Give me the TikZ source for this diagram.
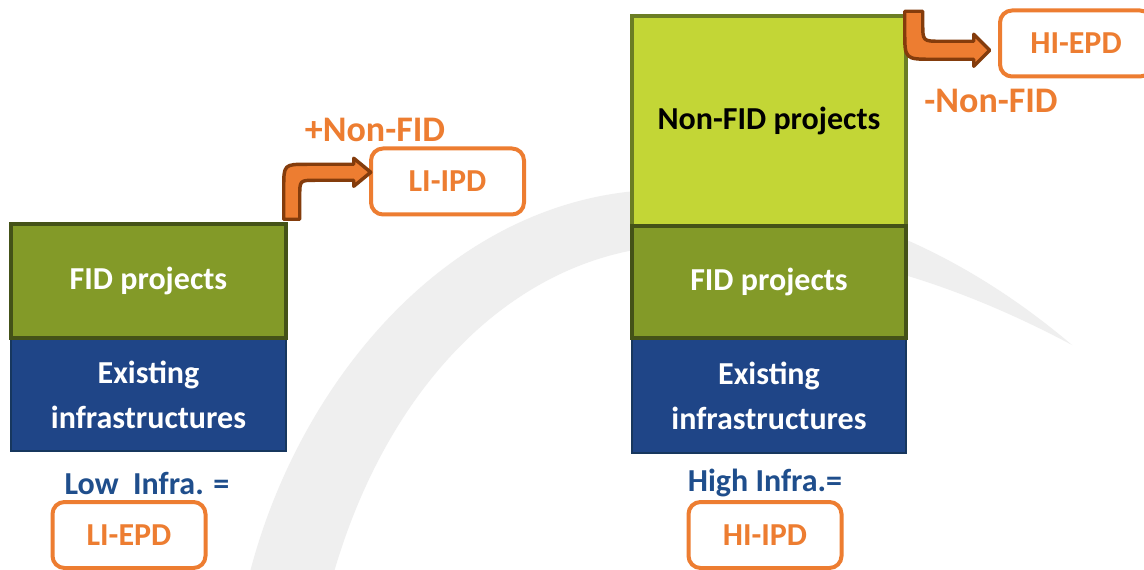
\documentclass[tikz,border=0pt]{standalone}
\usepackage{fontspec}
\setmainfont{Carlito}
\usetikzlibrary{calc}
\definecolor{orC}{HTML}{ED7D31}
\definecolor{brC}{HTML}{843C0C}
\definecolor{olFill}{HTML}{839A28}
\definecolor{olLine}{HTML}{445218}
\definecolor{limeFill}{HTML}{C3D636}
\definecolor{limeLine}{HTML}{6B7D24}
\definecolor{blFill}{HTML}{1F4587}
\definecolor{blLine}{HTML}{17375E}
\definecolor{lblBlue}{HTML}{1F4E8C}
\definecolor{swoosh}{HTML}{EFEFEF}
\begin{document}
\begin{tikzpicture}[x=0.75pt,y=-0.75pt,
  stackbox/.style={draw, line width=2.6pt, text=white, align=center, inner sep=0pt,
    font=\fontsize{24}{33.75}\selectfont\bfseries},
  fidbox/.style={stackbox, fill=olFill, draw=olLine},
  exbox/.style={stackbox, fill=blFill, draw=blLine, line width=2.2pt},
  nonfidbox/.style={stackbox, fill=limeFill, draw=limeLine, text=black},
  pdbox/.style={draw=orC, line width=3pt, rounded corners=9pt, fill=white, text=orC,
    minimum width=114.75pt, minimum height=49.5pt, inner sep=0pt,
    font=\fontsize{24}{28}\selectfont\bfseries},
  infralbl/.style={text=lblBlue, inner sep=0pt, font=\fontsize{24}{28}\selectfont\bfseries},
  nflbl/.style={text=orC, inner sep=0pt, font=\fontsize{27}{32}\selectfont\bfseries},
  bentarrow/.style={draw=brC, fill=orC, line width=2.6pt, line join=round}]
\useasboundingbox (0,0) rectangle (1144,570);
\fill[white] (0,0) rectangle (1144,570);
% background swoosh
\fill[swoosh] (250,572) .. controls (300,380) and (450,200) .. (650,190)
  .. controls (820,185) and (960,250) .. (1072,345)
  .. controls (950,280) and (820,240) .. (680,245)
  .. controls (520,250) and (390,380) .. (334,572) -- cycle;

% left stack
\node[exbox, minimum width=206.25pt, minimum height=84.75pt] (exL) at (148.5,394.5) {Existing\\infrastructures};
\node[fidbox, minimum width=206.25pt, minimum height=85.5pt] (fidL) at (148.5,281) {FID projects};
\node[infralbl] (lowlbl) at (147,483) {Low\ \ Infra. =};
\node[pdbox] (liepd) at (129,535) {LI-EPD};
\node[pdbox] (liipd) at (447.5,181.5) {LI-IPD};
\node[nflbl] (plusnf) at (375,130) {+Non-FID};

% right stack
\node[exbox, minimum width=205.5pt, minimum height=86.25pt] (exR) at (769,395.5) {Existing\\infrastructures};
\node[nonfidbox, minimum width=205.5pt, minimum height=157.5pt] (nfR) at (769,121) {Non-FID projects};
\node[fidbox, minimum width=205.5pt, minimum height=84pt] (fidR) at (769,282) {FID projects};
\node[infralbl] (highlbl) at (765,483) {High Infra.=};
\node[pdbox] (hiipd) at (765,535) {HI-IPD};
\node[pdbox, minimum width=114pt] (hiepd) at (1076,43.5) {HI-EPD};
\node[nflbl] (minusnf) at (991,101) {-Non-FID};

% bent arrows
\coordinate (arrL) at ($(fidL.north east)+(4,-3)$);
\coordinate (arrR) at ($(nfR.north east)+(6,-3)$);
\begin{scope}[shift={(arrL)}]
\draw[bentarrow] (-8,0) -- (-8,-31) .. controls (-8,-55) .. (16,-55) -- (62,-55) -- (62,-61)
  -- (79,-47) -- (62,-33) -- (62,-39) -- (24,-39) .. controls (8,-39) .. (8,-23) -- (8,0) -- cycle;
\end{scope}
\begin{scope}[shift={(arrR)}]
\draw[bentarrow] (-9,0) -- (-9,20) .. controls (-9,48) .. (19,48) -- (60,48) -- (60,55)
  -- (76,39) -- (60,23) -- (60,30) -- (27,30) .. controls (9,30) .. (9,12) -- (9,0) -- cycle;
\end{scope}
\end{tikzpicture}
\end{document}
